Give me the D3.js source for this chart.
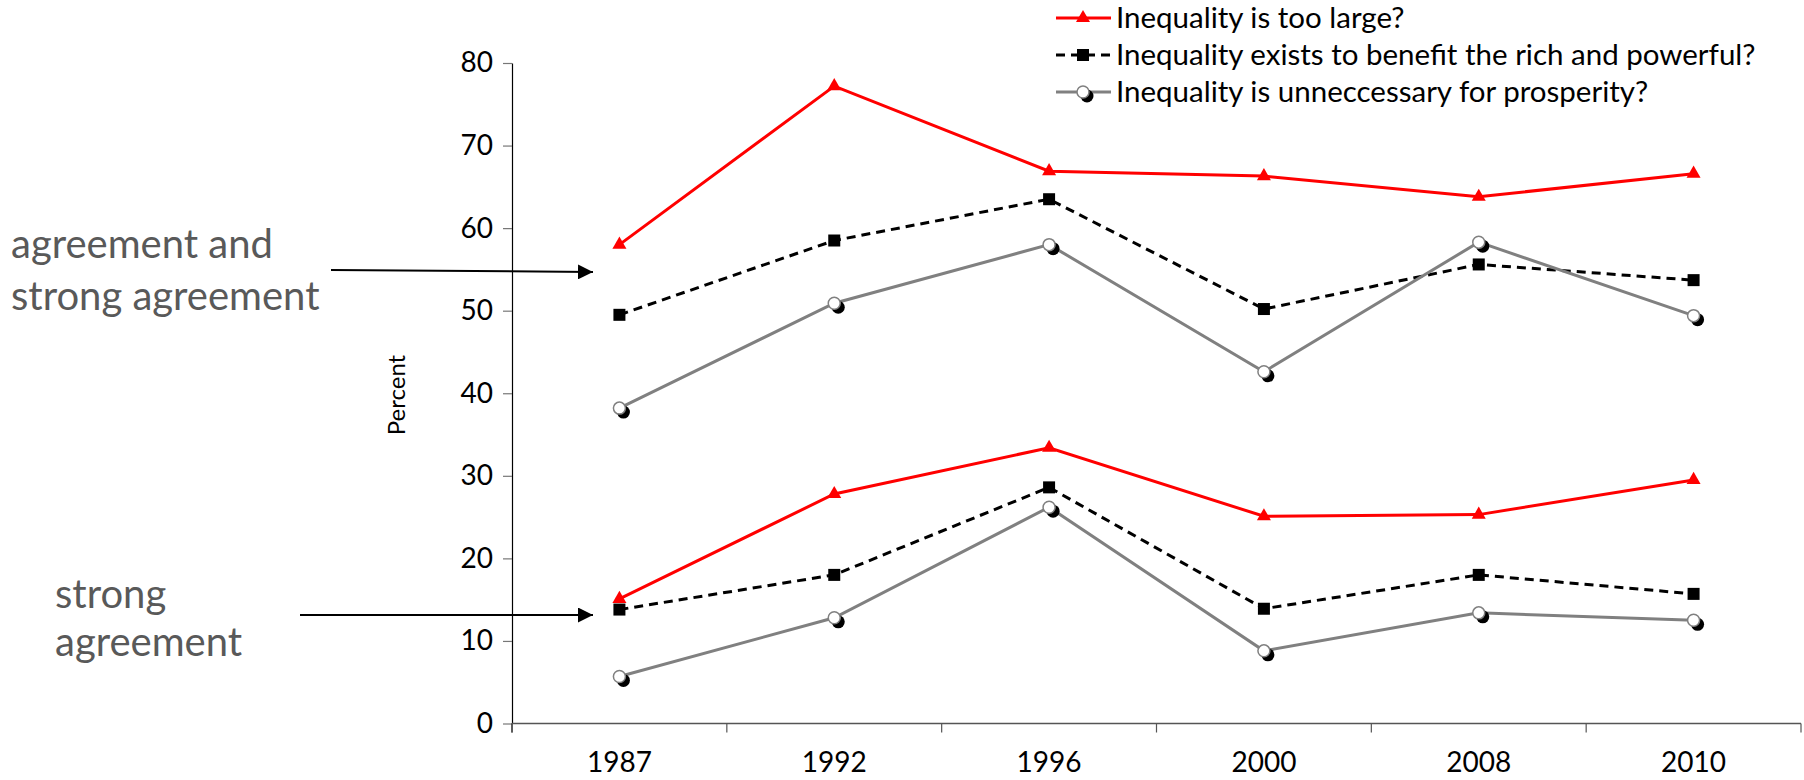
<!DOCTYPE html>
<html>
<head>
<meta charset="utf-8">
<script src="https://cdn.jsdelivr.net/npm/d3@7"></script>
<style>
  html, body { margin: 0; padding: 0; background: #fff; }
  svg { display: block; font-family: Lato, "Open Sans", sans-serif; }
</style>
</head>
<body>
<svg id="chart" width="1804" height="780"></svg>
<script>
// Survey years (categories)
const years = ["1987", "1992", "1996", "2000", "2008", "2010"];

// Share agreeing or strongly agreeing (upper set of lines)
const tooLargeAgree    = [58.0, 77.2, 66.9, 66.3, 63.8, 66.6];
const benefitRichAgree = [49.5, 58.5, 63.5, 50.2, 55.6, 53.7];
const unnecessaryAgree = [38.2, 50.9, 58.0, 42.6, 58.3, 49.4];

// Share strongly agreeing (lower set of lines)
const tooLargeStrong    = [15.1, 27.8, 33.4, 25.1, 25.3, 29.5];
const benefitRichStrong = [13.8, 18.0, 28.6, 13.9, 18.0, 15.7];
const unnecessaryStrong = [5.7, 12.8, 26.2, 8.8, 13.4, 12.5];

const yTicks = [0, 10, 20, 30, 40, 50, 60, 70, 80];
const legendLabels = [
  "Inequality is too large?",
  "Inequality exists to benefit the rich and powerful?",
  "Inequality is unneccessary for prosperity?"
];

const svg = d3.select("#chart");

const x = d3.scaleBand().domain(years).range([512, 1801]);
const y = d3.scaleLinear().domain([0, 80]).range([723.5, 63]);

// Axes
const yAxis = svg.append("g")
  .attr("transform", "translate(512,0)")
  .call(d3.axisLeft(y).tickValues(yTicks).tickSize(9).tickPadding(10).tickSizeOuter(0));
yAxis.select(".domain").attr("stroke", "#000").attr("stroke-width", 1.2);
yAxis.selectAll(".tick line").attr("stroke", "#777").attr("stroke-width", 1.2);
yAxis.selectAll(".tick text").attr("font-size", 28).attr("fill", "#000")
  .attr("font-family", "Lato, sans-serif");

// extend the vertical axis down to the category tick length
svg.append("line")
  .attr("x1", 512).attr("x2", 512)
  .attr("y1", y(0)).attr("y2", y(0) + 9)
  .attr("stroke", "#000").attr("stroke-width", 1.2);

const xAxisG = svg.append("g").attr("transform", `translate(0,${y(0)})`);
xAxisG.append("line")
  .attr("x1", 512).attr("x2", 1801)
  .attr("stroke", "#555").attr("stroke-width", 1.6);
// category boundary ticks
const bounds = years.map(d => x(d)).concat([x(years[years.length - 1]) + x.bandwidth()]);
xAxisG.selectAll("line.bt").data(bounds).enter().append("line")
  .attr("class", "bt")
  .attr("x1", d => d).attr("x2", d => d)
  .attr("y1", 0).attr("y2", 9)
  .attr("stroke", "#555").attr("stroke-width", 1.2);
xAxisG.selectAll("text.yl").data(years).enter().append("text")
  .attr("class", "yl")
  .attr("x", d => x(d) + x.bandwidth() / 2)
  .attr("y", 48)
  .attr("text-anchor", "middle")
  .attr("font-size", 28)
  .attr("fill", "#000")
  .text(d => d);

// Axis title
svg.append("text")
  .attr("transform", "translate(405,395) rotate(-90)")
  .attr("text-anchor", "middle")
  .attr("font-size", 24)
  .attr("fill", "#000")
  .text("Percent");

const cx = d => x(d) + x.bandwidth() / 2;
const line = d3.line().x((d, i) => cx(years[i])).y(d => y(d));

const series = [
  { values: tooLargeAgree, kind: "tri" },
  { values: benefitRichAgree, kind: "sq" },
  { values: unnecessaryAgree, kind: "circ" },
  { values: tooLargeStrong, kind: "tri" },
  { values: benefitRichStrong, kind: "sq" },
  { values: unnecessaryStrong, kind: "circ" }
];

const styles = {
  tri:  { stroke: "#ff0000", dash: null },
  sq:   { stroke: "#000000", dash: "9,6" },
  circ: { stroke: "#808080", dash: null }
};

function drawMarker(g, kind, px, py) {
  if (kind === "tri") {
    g.append("path")
      .attr("d", d3.symbol().type(d3.symbolTriangle).size(85)())
      .attr("transform", `translate(${px},${py})`)
      .attr("fill", "#ff0000");
  } else if (kind === "sq") {
    g.append("rect")
      .attr("x", px - 6).attr("y", py - 6)
      .attr("width", 12).attr("height", 12)
      .attr("fill", "#000");
  } else {
    g.append("circle").attr("cx", px + 4).attr("cy", py + 4).attr("r", 6.5).attr("fill", "#000");
    g.append("circle").attr("cx", px).attr("cy", py).attr("r", 6)
      .attr("fill", "#fff").attr("stroke", "#808080").attr("stroke-width", 1.5);
  }
}

const plot = svg.append("g");
series.forEach(s => {
  const st = styles[s.kind];
  plot.append("path")
    .datum(s.values)
    .attr("d", line)
    .attr("fill", "none")
    .attr("stroke", st.stroke)
    .attr("stroke-width", 3)
    .attr("stroke-dasharray", st.dash);
  s.values.forEach((v, i) => drawMarker(plot, s.kind, cx(years[i]), y(v)));
});

// Legend
const legendKinds = ["tri", "sq", "circ"];
const legendRows = [18, 55, 92];
legendLabels.forEach((label, i) => {
  const g = svg.append("g");
  const st = styles[legendKinds[i]];
  g.append("line")
    .attr("x1", 1056).attr("x2", 1111)
    .attr("y1", legendRows[i]).attr("y2", legendRows[i])
    .attr("stroke", st.stroke).attr("stroke-width", 3)
    .attr("stroke-dasharray", st.dash);
  drawMarker(g, legendKinds[i], 1083, legendRows[i]);
  g.append("text")
    .attr("x", 1116).attr("y", legendRows[i])
    .attr("dy", "0.35em")
    .attr("font-size", 29.5)
    .attr("fill", "#000")
    .text(label);
});

// Annotations with arrows
const defs = svg.append("defs");
defs.append("marker")
  .attr("id", "arrowhead")
  .attr("viewBox", "0 0 10 10")
  .attr("refX", 10).attr("refY", 5)
  .attr("markerWidth", 7.5).attr("markerHeight", 7.5)
  .attr("orient", "auto")
  .append("path").attr("d", "M0,0 L10,5 L0,10 Z").attr("fill", "#000");

svg.append("line")
  .attr("x1", 331).attr("y1", 270).attr("x2", 593).attr("y2", 272)
  .attr("stroke", "#000").attr("stroke-width", 2)
  .attr("marker-end", "url(#arrowhead)");
svg.append("line")
  .attr("x1", 300).attr("y1", 615).attr("x2", 593).attr("y2", 615)
  .attr("stroke", "#000").attr("stroke-width", 2)
  .attr("marker-end", "url(#arrowhead)");

const note = svg.append("g").attr("fill", "#595959").attr("font-size", 40);
note.append("text").attr("x", 11).attr("y", 258).text("agreement and");
note.append("text").attr("x", 11).attr("y", 310).text("strong agreement");
note.append("text").attr("x", 55).attr("y", 608).text("strong");
note.append("text").attr("x", 55).attr("y", 656).text("agreement");
</script>
</body>
</html>
